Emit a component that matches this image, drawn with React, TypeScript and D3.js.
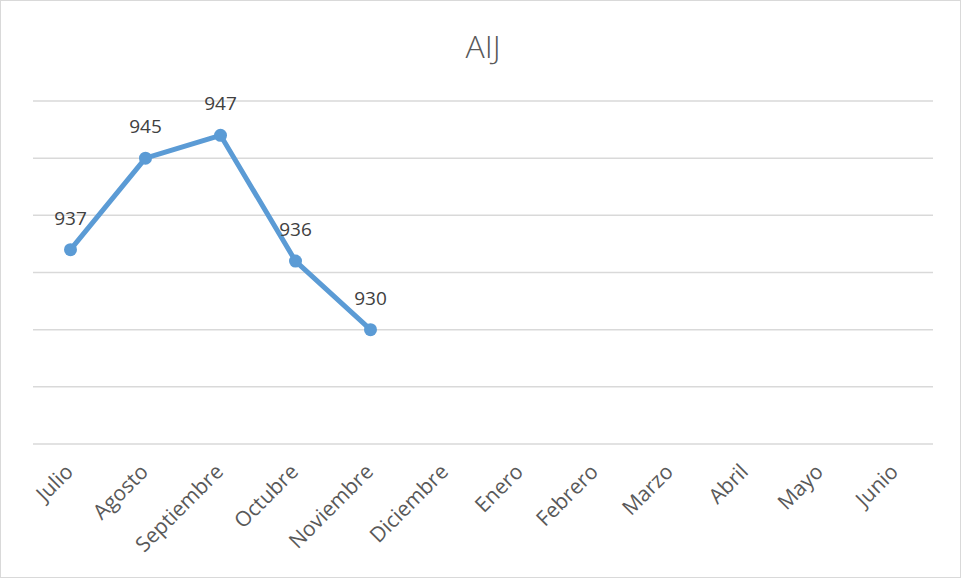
import React from "react";
import * as d3 from "d3";

const months = ["Julio","Agosto","Septiembre","Octubre","Noviembre","Diciembre","Enero","Febrero","Marzo","Abril","Mayo","Junio"];
const values = [937, 945, 947, 936, 930];
const gridTicks = [920, 925, 930, 935, 940, 945, 950];
const title = "AIJ";

export default function App() {
  const W = 961, H = 578;
  const x = d3.scaleBand<string>().domain(months).range([33, 933]);
  const y = d3.scaleLinear().domain([920, 950]).range([444, 101]);
  const cx = (i: number) => (x(months[i]) as number) + x.bandwidth() / 2;
  const line = d3.line<number>().x((_, i) => cx(i)).y((d) => y(d));
  return (
    <svg width={W} height={H} style={{ position: "absolute", left: 0, top: 0, background: "#fff" }}>
      <rect x={0.5} y={0.5} width={W - 1} height={H - 1} fill="#fff" stroke="#d9d9d9" strokeWidth={1} />
      <text x={483} y={58} textAnchor="middle" fontFamily="'Open Sans', sans-serif" fontWeight={300} fontSize={32} fill="#595959">{title}</text>
      {gridTicks.map((t) => (
        <line key={t} x1={33} x2={933} y1={y(t)} y2={y(t)} stroke="#d9d9d9" strokeWidth={1.5} />
      ))}
      <path d={line(values) || ""} fill="none" stroke="#5b9bd5" strokeWidth={5} strokeLinejoin="round" strokeLinecap="round" />
      {values.map((v, i) => (
        <circle key={i} cx={cx(i)} cy={y(v)} r={6.5} fill="#5b9bd5" />
      ))}
      {values.map((v, i) => (
        <text key={"l" + i} x={cx(i)} y={y(v) - 25} textAnchor="middle" fontFamily="'Liberation Sans Narrow', 'Open Sans', sans-serif" fontSize={19} fill="#404040">{v}</text>
      ))}
      {months.map((m, i) => (
        <text key={m} transform={`translate(${cx(i) + 4},${473}) rotate(-45)`} textAnchor="end" fontFamily="'Open Sans', sans-serif" fontSize={21} fill="#595959">{m}</text>
      ))}
    </svg>
  );
}
